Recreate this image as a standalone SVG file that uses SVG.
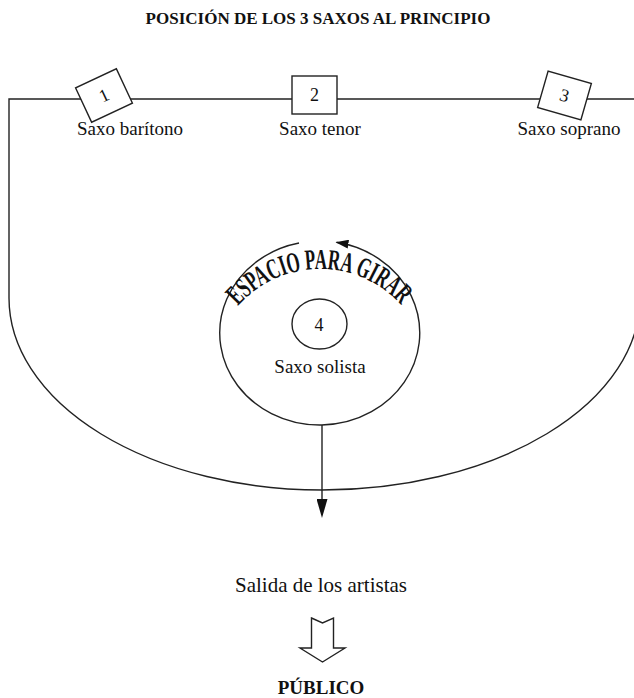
<svg xmlns="http://www.w3.org/2000/svg" width="634" height="698" viewBox="0 0 634 698">
<style>
.ln{fill:none;stroke:#222;stroke-width:1.4}
.box{fill:#fff;stroke:#222;stroke-width:1.4}
.t{font-family:"Liberation Serif","Times New Roman",serif;font-size:19px;fill:#111;text-anchor:middle}
.b{font-weight:bold}
.n{font-size:18px}
</style>
<defs>
<marker id="ah" viewBox="0 0 19 11" markerWidth="19" markerHeight="11" refX="2" refY="5.5" orient="auto" markerUnits="userSpaceOnUse">
<path d="M0,0 L19,5.5 L0,11 z" fill="#111"/>
</marker>
<marker id="ahs" viewBox="0 0 13 9" markerWidth="13" markerHeight="9" refX="12" refY="4.5" orient="auto" markerUnits="userSpaceOnUse">
<path d="M0,0 L13,4.5 L0,9 z" fill="#111"/>
</marker>
<path id="arcText" d="M 238 306 A 109.4 109.4 0 0 1 402 306"/>
</defs>
<rect width="634" height="698" fill="#fff"/>
<text class="t b" x="318" y="24" style="font-size:17px">POSICIÓN DE LOS 3 SAXOS AL PRINCIPIO</text>
<g id="stage">
<path class="ln" d="M 634 99 H 9 V 298 A 313 192 0 0 0 322 490 A 318 192 0 0 0 640 298"/>
</g>
<g id="connectors">
<path class="ln" d="M 299 243 A 100 92 0 1 0 336.5 242.3" marker-end="url(#ahs)"/>
<path class="ln" d="M 322 425 V 501" marker-end="url(#ah)"/>
</g>
<g id="sax1">
<g transform="translate(104 95.5) rotate(-25)">
<rect class="box" x="-22.5" y="-19" width="45" height="38"/>
<text class="t n" x="0" y="6">1</text>
</g>
<text class="t" x="130" y="135">Saxo barítono</text>
</g>
<g id="sax2">
<rect class="box" x="292" y="76" width="45" height="38"/>
<text class="t n" x="314.5" y="101">2</text>
<text class="t" x="320" y="135">Saxo tenor</text>
</g>
<g id="sax3">
<g transform="translate(564.5 95.5) rotate(16)">
<rect class="box" x="-22.5" y="-19" width="45" height="38"/>
<text class="t n" x="0" y="6">3</text>
</g>
<text class="t" x="569" y="135">Saxo soprano</text>
</g>
<g id="giro">
<text class="t b" style="font-size:29px;text-anchor:start"><textPath href="#arcText" textLength="184" lengthAdjust="spacingAndGlyphs">ESPACIO PARA GIRAR</textPath></text>
</g>
<g id="sax4">
<ellipse class="box" cx="319.5" cy="324" rx="27.5" ry="25"/>
<text class="t n" x="319" y="330.5">4</text>
<text class="t" x="320" y="373">Saxo solista</text>
</g>
<g id="salida">
<text class="t" x="321" y="592" style="font-size:21px">Salida de los artistas</text>
</g>
<g id="flecha">
<path class="box" d="M 311.5 618 L 322.5 623 L 333.5 618 V 648 H 345 L 322.5 662 L 300 648 H 311.5 Z"/>
</g>
<g id="publico">
<text class="t b" x="321" y="694">PÚBLICO</text>
</g>
</svg>
